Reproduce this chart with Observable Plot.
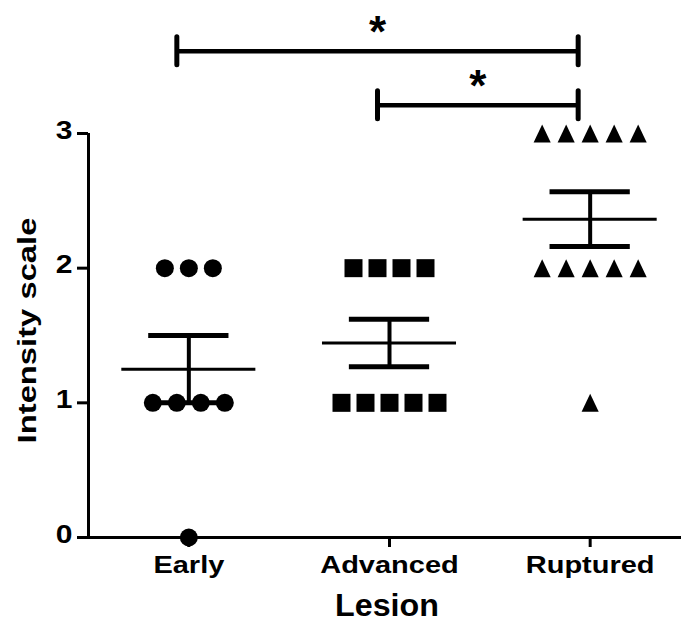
<!DOCTYPE html>
<html>
<head>
<meta charset="utf-8">
<script src="https://cdn.jsdelivr.net/npm/d3@7"></script>
<script src="https://cdn.jsdelivr.net/npm/@observablehq/plot@0.6"></script>
<style>
  html, body { margin: 0; padding: 0; background: #fff; }
  svg { display: block; }
</style>
</head>
<body>
<div id="chart"></div>
<script>
// ---- data ----
const categories = ["Early", "Advanced", "Ruptured"];
const earlyValues = [2, 2, 2, 1, 1, 1, 1, 0];
const advancedValues = [2, 2, 2, 2, 1, 1, 1, 1, 1];
const rupturedValues = [3, 3, 3, 3, 3, 2, 2, 2, 2, 2, 1];
const yTicks = [0, 1, 2, 3];
const xTitle = "Lesion";
const yTitle = "Intensity scale";
const compFrom = ["Early", "Advanced"];
const compTo = ["Ruptured", "Ruptured"];
const compLevel = [3.61, 3.21];
const compLabel = ["*", "*"];

// ---- build tables ----
const groups = [earlyValues, advancedValues, rupturedValues];
const spread = 0.1196;   // horizontal spacing of stacked points (category units)
const idx = c => categories.indexOf(c);

function scatter(values, gi) {
  const out = [];
  for (const [v, arr] of d3.group(values, d => d)) {
    const n = arr.length;
    arr.forEach((_, i) => out.push({x: gi + (i - (n - 1) / 2) * spread, y: v}));
  }
  return out;
}
const pts = groups.map((g, gi) => scatter(g, gi));

const stats = groups.map((g, gi) => {
  const m = d3.mean(g);
  const sem = d3.deviation(g) / Math.sqrt(g.length);
  return {i: gi, mean: m, lo: m - sem, hi: m + sem};
});
const semCaps = stats.flatMap(s => [{i: s.i, y: s.lo}, {i: s.i, y: s.hi}]);

const comparisons = compFrom.map((f, k) => ({
  a: idx(f), b: idx(compTo[k]), level: compLevel[k], label: compLabel[k]
}));
const bracketEnds = comparisons.flatMap(c => [{x: c.a, level: c.level}, {x: c.b, level: c.level}]);

// ---- custom symbols ----
const sqSym = {draw(ctx, size) { const r = Math.sqrt(size / Math.PI); ctx.rect(-r, -r, 2 * r, 2 * r); }};
const triSym = {draw(ctx, size) {
  const r = Math.sqrt(size / Math.PI);
  ctx.moveTo(0, -r); ctx.lineTo(r * 0.95, r); ctx.lineTo(-r * 0.95, r); ctx.closePath();
}};

const FONT = "'Liberation Sans', Arial, Helvetica, sans-serif";

const plot = Plot.plot({
  width: 681,
  height: 628,
  marginLeft: 88,
  marginRight: 0,
  marginTop: 133,
  marginBottom: 91,
  style: {fontFamily: FONT, color: "#000", background: "#fff", overflow: "visible"},
  x: {domain: [-0.5, 2.5], range: [88, 690]},
  y: {domain: [0, 3]},
  marks: [
    // axes
    Plot.ruleY([0], {stroke: "#000", strokeWidth: 3}),
    Plot.ruleX([-0.5], {y1: 0, y2: 3, stroke: "#000", strokeWidth: 3}),
    Plot.axisY(yTicks, {tickSize: 11, strokeWidth: 3, tickFormat: () => "", label: null}),
    Plot.text(yTicks, {frameAnchor: "left", y: d => d, text: d => d3.format("d")(d),
      textAnchor: "end", dx: -16, dy: -3, fontSize: 25, fontWeight: "bold", fill: "#000"}),
    Plot.axisX(categories.map((c, i) => i), {tickSize: 10, tickPadding: 9, strokeWidth: 3,
      tickFormat: i => categories[i], fontSize: 23, fontWeight: "bold", label: null}),
    Plot.text([yTitle], {frameAnchor: "left", textAnchor: "middle", rotate: -90, dx: -61, dy: -5,
      fontSize: 26, fontWeight: "bold", fill: "#000"}),
    Plot.text([xTitle], {frameAnchor: "bottom", textAnchor: "middle", dx: 2, dy: 78,
      fontSize: 31, fontWeight: "bold", fill: "#000"}),

    // points
    Plot.dot(pts[0], {x: "x", y: "y", r: 9, symbol: "circle", fill: "#000", stroke: "none"}),
    Plot.dot(pts[1], {x: "x", y: "y", r: 9, symbol: sqSym, fill: "#000", stroke: "none"}),
    Plot.dot(pts[2], {x: "x", y: "y", r: 9, symbol: triSym, fill: "#000", stroke: "none"}),

    // mean ± SEM
    Plot.ruleY(stats, {y: "mean", x1: d => d.i - 0.334, x2: d => d.i + 0.334, stroke: "#000", strokeWidth: 3}),
    Plot.ruleX(stats, {x: "i", y1: "lo", y2: "hi", stroke: "#000", strokeWidth: 4}),
    Plot.ruleY(semCaps, {y: "y", x1: d => d.i - 0.2, x2: d => d.i + 0.2, stroke: "#000", strokeWidth: 5}),

    // significance brackets
    Plot.ruleY(comparisons, {y: "level", x1: "a", x2: "b", dx: -12, stroke: "#000", strokeWidth: 4.5}),
    Plot.ruleX(bracketEnds, {x: "x", y1: d => d.level - 0.104, y2: d => d.level + 0.104, dx: -12,
      stroke: "#000", strokeWidth: 5, strokeLinecap: "round"}),
    Plot.text(comparisons, {x: d => (d.a + d.b) / 2, y: "level", text: "label", dx: -12, dy: -18,
      fontSize: 44, fontWeight: "bold", fill: "#000"})
  ]
});

document.getElementById("chart").appendChild(plot);

// widen the bold lettering to match the reference's wide bitmap font rendering
const NS = "http://www.w3.org/2000/svg";
function center(el) { const b = el.getBoundingClientRect(); return [b.left + b.width / 2, b.top + b.height / 2]; }
function widen(t, factor, recenter) {
  const c0 = center(t);
  const len = t.getComputedTextLength();
  if (!(len > 0)) return;
  t.setAttribute("textLength", (len * factor).toFixed(1));
  t.setAttribute("lengthAdjust", "spacingAndGlyphs");
  if (recenter) {
    const c1 = center(t);
    const sx = c0[0] - c1[0], sy = c0[1] - c1[1];
    const parent = t.parentNode;
    const m = parent.getScreenCTM().inverse();
    const lx = m.a * sx + m.c * sy, ly = m.b * sx + m.d * sy;
    const g = document.createElementNS(NS, "g");
    g.setAttribute("transform", `translate(${lx.toFixed(2)},${ly.toFixed(2)})`);
    parent.insertBefore(g, t);
    g.appendChild(t);
  }
}
const tickStrings = yTicks.map(d => d3.format("d")(d));
Array.from(plot.querySelectorAll("text")).forEach(t => {
  const s = t.textContent.trim();
  if (s === yTitle) widen(t, 1.26, true);
  else if (s === xTitle) widen(t, 1.04, true);
  else if (categories.includes(s)) widen(t, 1.26, false);
  else if (tickStrings.includes(s)) widen(t, 1.2, false);
});
</script>
</body>
</html>
